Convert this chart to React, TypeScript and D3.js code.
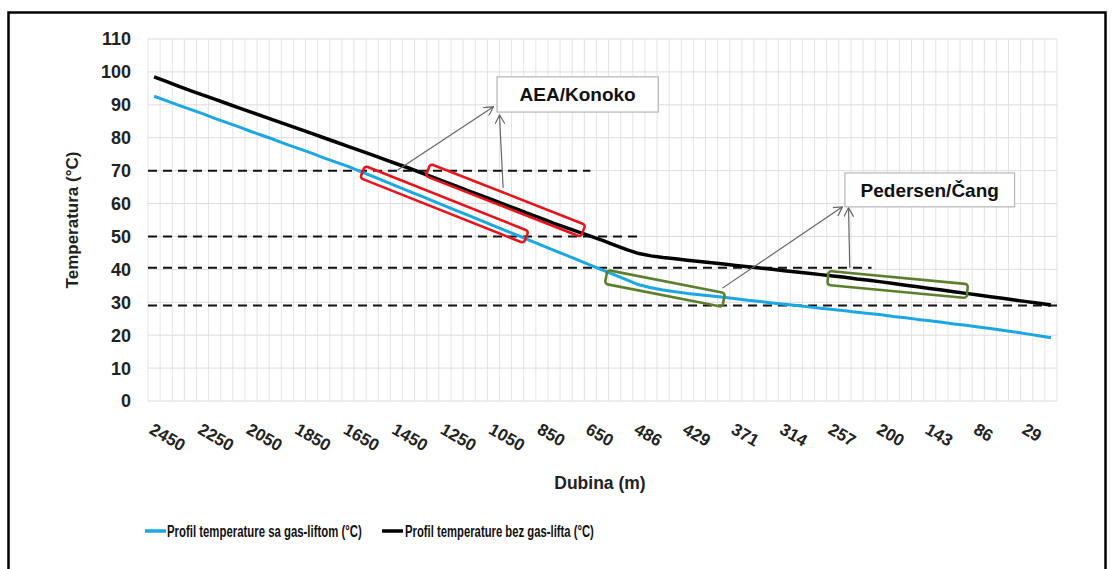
import React, { useLayoutEffect, useRef } from 'react';
import * as d3 from 'd3';

// depth categories (m); only every 4th one is labelled on the axis
const depths = [
  2450, 2400, 2350, 2300, 2250, 2200, 2150, 2100, 2050, 2000,
  1950, 1900, 1850, 1800, 1750, 1700, 1650, 1600, 1550, 1500,
  1450, 1400, 1350, 1300, 1250, 1200, 1150, 1100, 1050, 1000,
  950, 900, 850, 800, 750, 700, 650, 609, 568, 527,
  486, 472, 457, 443, 429, 415, 400, 386, 371, 357,
  343, 328, 314, 300, 286, 271, 257, 243, 228, 214,
  200, 186, 171, 157, 143, 129, 114, 100, 86, 72,
  57, 43, 29, 15, 0,
];

// Profil temperature sa gas-liftom (°C)
const withGasLift = [
  92.6, 91.3, 89.9, 88.6, 87.3, 85.9, 84.6, 83.3, 81.9, 80.6,
  79.3, 77.9, 76.6, 75.3, 73.9, 72.6, 71.3, 69.8, 68.3, 66.8,
  65.3, 63.8, 62.3, 60.8, 59.3, 57.8, 56.3, 54.8, 53.3, 51.8,
  50.3, 48.8, 47.3, 45.8, 44.3, 42.8, 41.3, 39.8, 38.3, 36.8,
  35.3, 34.4, 33.7, 33.2, 32.7, 32.3, 31.9, 31.5, 31.1, 30.6,
  30.2, 29.8, 29.4, 29.0, 28.6, 28.2, 27.8, 27.4, 27.0, 26.6,
  26.2, 25.7, 25.3, 24.8, 24.4, 23.9, 23.4, 23.0, 22.5, 22.0,
  21.5, 21.0, 20.4, 19.8, 19.2,
];

// Profil temperature bez gas-lifta (°C)
const withoutGasLift = [
  98.5, 97.1, 95.7, 94.3, 93.0, 91.7, 90.4, 89.1, 87.8, 86.5,
  85.2, 83.9, 82.6, 81.3, 80.0, 78.7, 77.4, 76.1, 74.8, 73.4,
  72.1, 70.8, 69.4, 68.0, 66.6, 65.2, 63.8, 62.4, 61.0, 59.6,
  58.2, 56.8, 55.4, 54.0, 52.7, 51.4, 50.1, 48.8, 47.4, 46.0,
  44.8, 44.1, 43.6, 43.2, 42.8, 42.4, 42.0, 41.6, 41.2, 40.8,
  40.4, 40.0, 39.6, 39.2, 38.8, 38.4, 38.0, 37.6, 37.1, 36.7,
  36.2, 35.7, 35.2, 34.7, 34.2, 33.7, 33.2, 32.7, 32.2, 31.7,
  31.2, 30.7, 30.2, 29.7, 29.2,
];

const yTicks = [0, 10, 20, 30, 40, 50, 60, 70, 80, 90, 100, 110];

const seriesNames = ['Profil temperature sa gas-liftom (°C)', 'Profil temperature bez gas-lifta (°C)'];

// dashed reference levels: temperature and the category index where the dash stops
const refTemps = [70, 50, 40.5, 29];
const refEnds = [36, 40.3, 59.2, 74.5];

// highlight boxes: [startIndex, startTemp, endIndex, endTemp]
const redBoxes = [
  [17.2, 69.6, 30.7, 49.8],
  [22.6, 70.2, 35.4, 51.7],
];
const greenBoxes = [
  [37.3, 37.7, 47.0, 30.7],
  [55.6, 37.4, 67.1, 33.4],
];

// callouts
const calloutLabels = ['AEA/Konoko', 'Pedersen/Čang'];
const calloutBoxes = [
  [28.3, 98.5, 41.6, 87.8],
  [57.0, 69.3, 71.0, 59.0],
];
const calloutArrows = [
  [
    [20.1, 70.2, 28.0, 89.4],
    [28.8, 64.7, 28.5, 86.9],
  ],
  [
    [46.9, 34.3, 56.8, 59.0],
    [57.4, 40.4, 57.3, 58.7],
  ],
];

const W = 1113;
const H = 569;
const left = 148;
const right = 1057;
const top = 39;
const bottom = 401;

const BLUE = '#1aa7e2';
const FONT = '"Liberation Sans", Arial, sans-serif';

// legend layout (line start, text start, text width the reference shows)
const legendItems = [
  { name: seriesNames[0], color: BLUE, lx: 145, tx: 167, tw: 195 },
  { name: seriesNames[1], color: '#000', lx: 382, tx: 405, tw: 189 },
];

const App: React.FC = () => {
  const legendRef = useRef<SVGGElement | null>(null);

  const x = d3.scaleLinear().domain([-0.5, depths.length - 0.5]).range([left, right]);
  const y = d3.scaleLinear().domain([0, 110]).range([bottom, top]);

  const line = d3
    .line<number>()
    .x((_, i) => x(i))
    .y(d => y(d));

  // squeeze legend text horizontally (the original uses a narrow font)
  useLayoutEffect(() => {
    d3.select(legendRef.current)
      .selectAll<SVGTextElement, unknown>('text')
      .each(function (_, k) {
        const it = legendItems[k];
        const w = this.getComputedTextLength() || it.tw;
        d3.select(this).attr('transform', `translate(${it.tx},531) scale(${it.tw / w},1)`);
      });
  }, []);

  const rotBox = (b: number[], h: number, color: string, key: string) => {
    const x1 = x(b[0]);
    const y1 = y(b[1]);
    const x2 = x(b[2]);
    const y2 = y(b[3]);
    const len = Math.hypot(x2 - x1, y2 - y1);
    const ang = (Math.atan2(y2 - y1, x2 - x1) * 180) / Math.PI;
    return (
      <rect
        key={key}
        x={-len / 2}
        y={-h / 2}
        width={len}
        height={h}
        rx={3}
        fill="none"
        stroke={color}
        strokeWidth={2.6}
        transform={`translate(${(x1 + x2) / 2},${(y1 + y2) / 2}) rotate(${ang})`}
      />
    );
  };

  return (
    <div style={{ position: 'absolute', left: 0, top: 0 }}>
      <svg width={W} height={H} style={{ display: 'block', background: '#fff' }}>
        <defs>
          <marker id="arr" viewBox="0 0 10 10" refX="9" refY="5" markerWidth="10" markerHeight="10" orient="auto" markerUnits="userSpaceOnUse">
            <path d="M0,0 L9,5 L0,10" fill="none" stroke="#666" strokeWidth={1.2} />
          </marker>
        </defs>

        {/* chart border */}
        <rect x={8.5} y={12.5} width={1097} height={560} fill="#fff" stroke="#000" strokeWidth={2.5} />

        {/* gridlines */}
        {depths.map((_, i) => (
          <line key={'vg' + i} x1={x(i - 0.5)} x2={x(i - 0.5)} y1={top} y2={bottom} stroke="#e3e3e3" strokeWidth={1} />
        ))}
        <line x1={right} x2={right} y1={top} y2={bottom} stroke="#e3e3e3" strokeWidth={1} />
        {yTicks.map(t => (
          <line key={'hg' + t} x1={left} x2={right} y1={y(t)} y2={y(t)} stroke="#dcdcdc" strokeWidth={1} />
        ))}

        {/* y tick labels */}
        {yTicks.map(t => (
          <text key={'yt' + t} x={131} y={y(t)} dy="0.36em" textAnchor="end" fontFamily={FONT} fontWeight="bold" fontSize={18} fill="#222">
            {t}
          </text>
        ))}

        {/* x tick labels */}
        {depths.map((d, i) =>
          i % 4 === 0 && i <= 72 ? (
            <text
              key={'xt' + i}
              transform={`translate(${x(i) + 1},${421}) rotate(30)`}
              dy="0.8em"
              fontFamily={FONT}
              fontWeight="bold"
              fontSize={17}
              fill="#222"
            >
              {d}
            </text>
          ) : null
        )}

        {/* axis titles */}
        <text x={600} y={489} textAnchor="middle" fontFamily={FONT} fontWeight="bold" fontSize={17.5} fill="#222">
          Dubina (m)
        </text>
        <text transform={`translate(78,${(top + bottom) / 2}) rotate(-90)`} textAnchor="middle" fontFamily={FONT} fontWeight="bold" fontSize={17} fill="#222">
          Temperatura (°C)
        </text>

        {/* dashed reference levels */}
        {refTemps.map((t, k) => (
          <line key={'ref' + k} x1={left} x2={x(refEnds[k])} y1={y(t)} y2={y(t)} stroke="#111" strokeWidth={2} strokeDasharray="9 6" />
        ))}

        {/* series */}
        <path d={line(withGasLift) ?? ''} fill="none" stroke={BLUE} strokeWidth={3} strokeLinejoin="round" />
        <path d={line(withoutGasLift) ?? ''} fill="none" stroke="#000" strokeWidth={3.5} strokeLinejoin="round" />

        {/* highlight boxes */}
        {redBoxes.map((b, k) => rotBox(b, 13, '#e8141c', 'rb' + k))}
        {greenBoxes.map((b, k) => rotBox(b, 14, '#5b7f2c', 'gb' + k))}

        {/* callouts */}
        {calloutArrows.map((arrs, k) =>
          arrs.map((a, j) => (
            <line key={`ca${k}-${j}`} x1={x(a[0])} y1={y(a[1])} x2={x(a[2])} y2={y(a[3])} stroke="#666" strokeWidth={1.2} markerEnd="url(#arr)" />
          ))
        )}
        {calloutBoxes.map((b, k) => (
          <g key={'cb' + k}>
            <rect x={x(b[0])} y={y(b[1])} width={x(b[2]) - x(b[0])} height={y(b[3]) - y(b[1])} fill="#fff" stroke="#b5b5b5" strokeWidth={1.2} />
            <text x={(x(b[0]) + x(b[2])) / 2} y={(y(b[1]) + y(b[3])) / 2} dy="0.36em" textAnchor="middle" fontFamily={FONT} fontWeight="bold" fontSize={19} fill="#111">
              {calloutLabels[k]}
            </text>
          </g>
        ))}

        {/* legend */}
        {legendItems.map(it => (
          <line key={'ll' + it.lx} x1={it.lx} x2={it.lx + 21} y1={531} y2={531} stroke={it.color} strokeWidth={3.5} />
        ))}
        <g ref={legendRef}>
          {legendItems.map(it => (
            <text key={'lt' + it.tx} transform={`translate(${it.tx},531)`} dy="0.36em" fontFamily={FONT} fontWeight="bold" fontSize={17} fill="#111">
              {it.name}
            </text>
          ))}
        </g>
      </svg>
    </div>
  );
};

export default App;
